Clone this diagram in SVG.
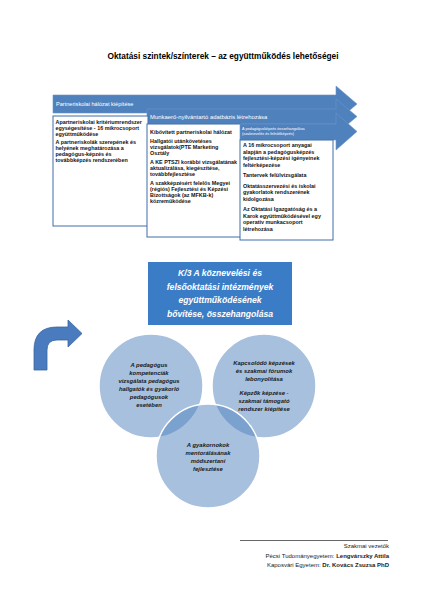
<svg xmlns="http://www.w3.org/2000/svg" width="424" height="600" viewBox="0 0 424 600">
<style>
.title{font-family:"Liberation Sans",Arial,sans-serif;font-weight:bold;font-size:8.3px;fill:#000}
.bar{fill:#4f81bd;stroke:#6b95c9;stroke-width:0.6}
.bt{font-family:"Liberation Sans",Arial,sans-serif;font-size:5.6px;fill:#fff}
.bts{font-family:"Liberation Sans",Arial,sans-serif;font-size:3.8px;fill:#fff}
.box{fill:#fff;stroke:#3f6ea8;stroke-width:1}
.tx{font-family:"Liberation Sans",Arial,sans-serif;font-weight:bold;font-size:5.4px;fill:#111}
.k3{fill:#3b7cc6}
.k3t{font-family:"Liberation Sans",Arial,sans-serif;font-weight:bold;font-style:italic;font-size:8.6px;fill:#fff;text-anchor:middle}
.circ{fill:#4f81bd;fill-opacity:0.5;stroke:#fff;stroke-width:1.5}
.ct{font-family:"Liberation Sans",Arial,sans-serif;font-weight:bold;font-style:italic;font-size:5.9px;fill:#1a1a1a;text-anchor:middle}
.ft{font-family:"Liberation Sans",Arial,sans-serif;font-size:6px;fill:#222;text-anchor:end}
</style>
<rect width="424" height="600" fill="#fff"/>
<text class="title" x="223" y="59" text-anchor="middle">Oktatási szintek/színterek – az együttműködés lehetőségei</text>

<g id="arrow1">
<path class="bar" d="M53,95 L336,95 L336,86 L357,104 L336,122 L336,113 L53,113 Z"/>
<text class="bt" x="56" y="106">Partneriskolai hálózat kiépítése</text>
</g>
<g id="arrow2">
<path class="bar" d="M147,109 L336,109 L336,99 L357,116.5 L336,134 L336,124 L147,124 Z"/>
<text class="bt" x="150" y="118.5" style="font-size:5.9px">Munkaerő-nyilvántartó adatbázis létrehozása</text>
</g>

<g id="box1">
<rect class="box" x="53" y="116" width="95" height="110"/>
<text class="tx" x="55.5" y="124">Apartneriskolai kritériumrendszer</text>
<text class="tx" x="55.5" y="130">egységesítése - 16 mikrocsoport</text>
<text class="tx" x="55.5" y="136">együttműködése</text>
<text class="tx" x="55.5" y="144">A partneriskolák szerepének és</text>
<text class="tx" x="55.5" y="150">helyének meghatározása a</text>
<text class="tx" x="55.5" y="156">pedagógus-képzés és</text>
<text class="tx" x="55.5" y="162">továbbképzés rendszerében</text>
</g>

<g id="box2">
<rect class="box" x="147" y="124" width="94" height="113"/>
<text class="tx" x="150" y="134">Kibővített partneriskolai hálózat</text>
<text class="tx" x="150" y="143">Hallgatói utánkövetéses</text>
<text class="tx" x="150" y="149">vizsgálatok(PTE Marketing</text>
<text class="tx" x="150" y="155">Osztály</text>
<text class="tx" x="150" y="164"> A KE PTSZI korábbi vizsgálatának</text>
<text class="tx" x="150" y="170">aktualizálása, kiegészítése,</text>
<text class="tx" x="150" y="176">továbbfejlesztése</text>
<text class="tx" x="150" y="185">A szakképzésért felelős Megyei</text>
<text class="tx" x="150" y="191">(régiós) Fejlesztési és Képzési</text>
<text class="tx" x="150" y="197">Bizottságok (az MFKB-k)</text>
<text class="tx" x="150" y="203">közreműködése</text>
</g>

<g id="arrow3">
<path class="bar" d="M240,124 L336,124 L336,113 L357,131.5 L336,150 L336,140 L240,140 Z"/>
<text class="bts" x="242" y="130">A pedagógusképzés összehangolása</text>
<text class="bts" x="242" y="135">(szaknevelés és felnőttképzés)</text>
</g>

<g id="box3">
<rect class="box" x="240" y="140" width="93" height="100"/>
<text class="tx" x="243" y="147">A 16 mikrocsoport anyagai</text>
<text class="tx" x="243" y="153.5">alapján a pedagógusképzés</text>
<text class="tx" x="243" y="160">fejlesztési-képzési igényeinek</text>
<text class="tx" x="243" y="166.5">feltérképezése</text>
<text class="tx" x="243" y="177">Tantervek felülvizsgálata</text>
<text class="tx" x="243" y="187.5">Oktatásszervezési és iskolai</text>
<text class="tx" x="243" y="194">gyakorlatok rendszerének</text>
<text class="tx" x="243" y="200.5">kidolgozása</text>
<text class="tx" x="243" y="211">Az Oktatási Igazgatóság és a</text>
<text class="tx" x="243" y="217.5">Karok együttműködésével egy</text>
<text class="tx" x="243" y="224">operatív munkacsoport</text>
<text class="tx" x="243" y="230.5">létrehozása</text>
</g>

<g id="k3">
<rect class="k3" x="148" y="262" width="144" height="63"/>
<text class="k3t" x="220" y="276">K/3 A köznevelési és</text>
<text class="k3t" x="220" y="289.5">felsőoktatási intézmények</text>
<text class="k3t" x="220" y="303">együttműködésének</text>
<text class="k3t" x="220" y="316.5">bővítése, összehangolása</text>
</g>

<g id="curved-arrow">
<path d="M34,370 L34,350 Q34,327 57,327 L68,327 L68,320 L82,333.5 L68,347 L68,340 L57,340 Q47,340 47,350 L47,370 Z" fill="#4a7bbf" stroke="#3a659f" stroke-width="0.8"/>
</g>

<g id="circle-left">
<circle class="circ" cx="151" cy="386" r="52"/>
</g>
<g id="circle-right">
<circle class="circ" cx="264" cy="386" r="52"/>
</g>
<g id="circle-bottom">
<circle class="circ" cx="208" cy="456" r="52"/>
</g>
<g id="circle-texts">
<text class="ct" x="149" y="367">A pedagógus</text>
<text class="ct" x="149" y="375">kompetenciák</text>
<text class="ct" x="149" y="383">vizsgálata pedagógus</text>
<text class="ct" x="149" y="391">hallgatók és gyakorló</text>
<text class="ct" x="149" y="399">pedagógusok</text>
<text class="ct" x="149" y="407">esetében</text>
<text class="ct" x="264" y="365">Kapcsolódó képzések</text>
<text class="ct" x="264" y="373">és szakmai fórumok</text>
<text class="ct" x="264" y="381">lebonyolítása</text>
<text class="ct" x="264" y="395">Képzők képzése -</text>
<text class="ct" x="264" y="403">szakmai támogató</text>
<text class="ct" x="264" y="411">rendszer kiépítése</text>
<text class="ct" x="208" y="447">A gyakornokok</text>
<text class="ct" x="208" y="455">mentorálásának</text>
<text class="ct" x="208" y="463">módszertani</text>
<text class="ct" x="208" y="471">fejlesztése</text>
</g>

<g id="footer">
<line x1="240" y1="540.5" x2="388" y2="540.5" stroke="#666" stroke-width="1.2"/>
<text class="ft" x="389" y="548">Szakmai vezetők</text>
<text class="ft" x="389" y="557.5">Pécsi Tudományegyetem: <tspan font-weight="bold">Lengvárszky Attila</tspan></text>
<text class="ft" x="389" y="567">Kaposvári Egyetem: <tspan font-weight="bold">Dr. Kovács Zsuzsa PhD</tspan></text>
</g>
</svg>
